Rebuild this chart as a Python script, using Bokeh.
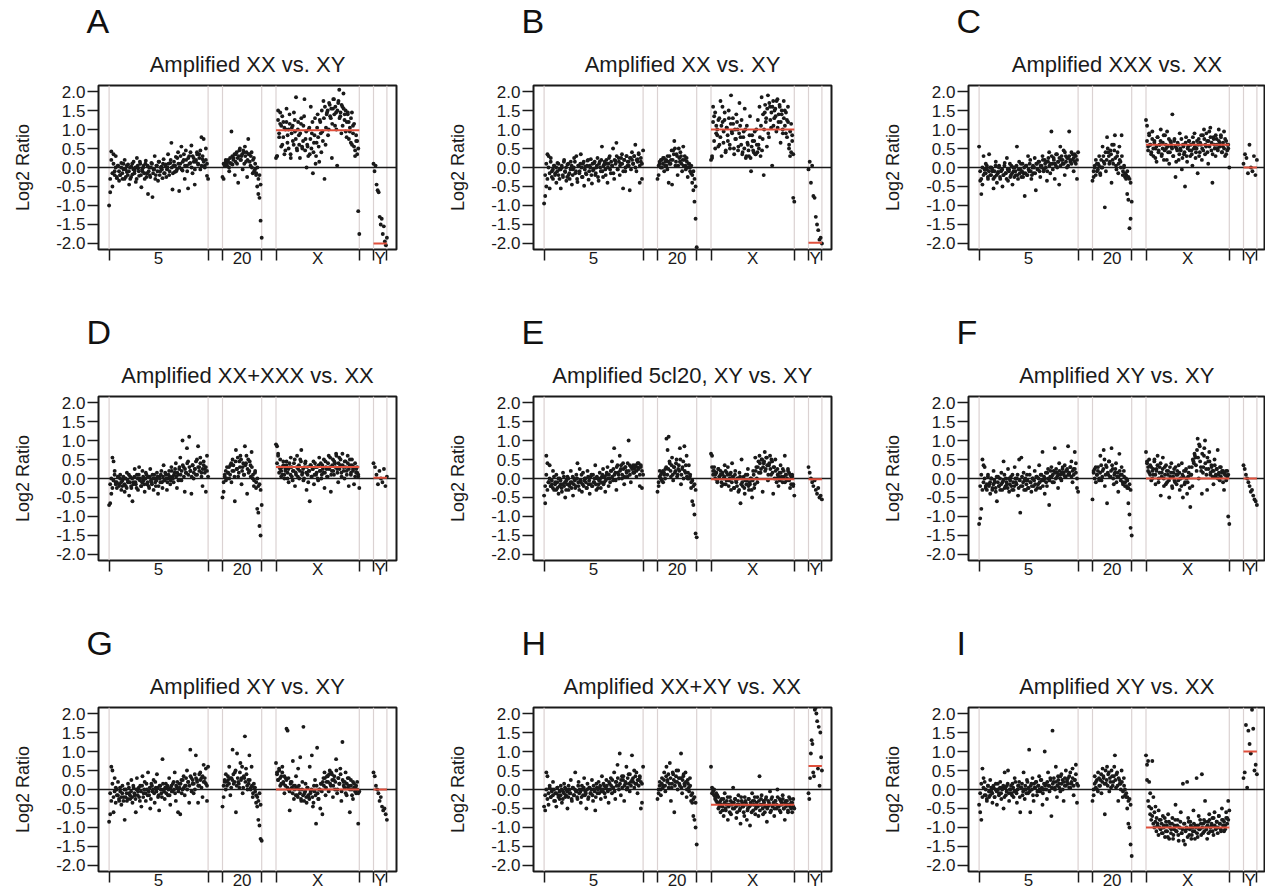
import numpy as np
from bokeh.plotting import figure
from bokeh.models import Span, Title, FixedTicker, NumeralTickFormatter, Range1d
from bokeh.layouts import column, row
from bokeh.embed import file_html
from bokeh.resources import INLINE

# ---------------- data ----------------
CHROMS = ["5", "20", "X", "Y"]
CHR_START = [0.0, 113.4, 166.9, 264.4]
CHR_END = [99.0, 152.6, 250.2, 277.8]
X_LIMITS = (-10.6, 287.4)
Y_LIMITS = (-2.16, 2.16)
Y_TICKS = [-2.0, -1.5, -1.0, -0.5, 0.0, 0.5, 1.0, 1.5, 2.0]
LETTERS = ["A", "B", "C", "D", "E", "F", "G", "H", "I"]
TITLES = ["Amplified XX vs. XY", "Amplified XX vs. XY", "Amplified XXX vs. XX",
          "Amplified XX+XXX vs. XX", "Amplified 5cl20, XY vs. XY", "Amplified XY vs. XY",
          "Amplified XY vs. XY", "Amplified XX+XY vs. XX", "Amplified XY vs. XX"]
X_MEAN = [0.98, 1.0, 0.6, 0.3, -0.02, 0.0, 0.0, -0.4, -1.0]
Y_MEAN = [-2.0, -1.98, 0.0, 0.02, -0.02, 0.0, 0.0, 0.62, 1.0]

# log2 ratios per chromosome; the *_5b / *_20b / *_Xb lists are the clones
# lying between the ones of *_5 / *_20 / *_X along the chromosome
A_5 = [-1.0, -0.65, 0.42, -0.5, 0.35, -0.1, 0.3, -0.28, 0.05, -0.35,
       -0.2, 0.12, -0.3, -0.05, 0.2, -0.25, -0.12, 0.08, -0.45, -0.3,
       0.02, -0.18, 0.15, -0.08, -0.38, 0.25, -0.02, -0.22, 0.1, -0.52,
       -0.1, 0.05, -0.3, 0.18, -0.15, -0.7, 0.0, -0.25, 0.12, -0.78,
       -0.05, 0.3, -0.2, 0.05, -0.35, 0.15, -0.1, 0.02, -0.28, 0.22,
       -0.15, 0.08, -0.05, 0.35, -0.2, 0.12, 0.65, -0.58, 0.05, -0.12,
       0.28, -0.05, 0.4, -0.62, 0.1, 0.55, -0.08, 0.2, -0.3, 0.45,
       0.05, -0.55, 0.3, 0.12, 0.58, -0.15, 0.25, -0.45, 0.15, 0.4,
       0.08, 0.35, -0.05, 0.8, 0.22, 0.75, 0.05, 0.5, -0.22, -0.3]
A_5b = [-0.3, 0.2, -0.15, 0.1, -0.2, 0.0, -0.25, 0.05, -0.1, -0.2,
        0.0, -0.15, 0.1, -0.3, -0.05, 0.05, -0.2, -0.1, 0.0, -0.25,
        0.1, -0.05, -0.15, 0.0, -0.3, 0.05, -0.1, 0.15, -0.2, -0.05,
        0.0, -0.15, 0.1, -0.25, 0.05, -0.1, -0.2, 0.0, 0.1, -0.15,
        -0.05, -0.3, 0.05, -0.1, 0.15, -0.2, 0.0, -0.05, 0.1, -0.15,
        0.05, -0.25, 0.0, 0.1, -0.1, 0.2, 0.0, -0.15, 0.15, 0.05,
        -0.1, 0.25, 0.1, 0.0, 0.3, -0.05, 0.15, 0.35, 0.05, 0.2,
        -0.1, 0.25, 0.1, 0.4, 0.0, 0.3, 0.15, -0.05, 0.2, 0.35,
        0.1, 0.25, 0.45, 0.05, 0.3, 0.15, 0.0, 0.2, 0.1]
A_20 = [-0.25, -0.3, 0.1, 0.15, 0.05, 0.2, -0.1, 0.12, 0.95, 0.08,
        0.25, -0.2, 0.35, 0.1, -0.4, 0.45, 0.2, 0.3, -0.05, 0.4,
        0.55, 0.15, -0.25, 0.75, 0.35, 0.05, 0.4, -0.15, 0.25, -0.05,
        -0.2, -0.5, -0.7, -0.8, -1.4, -1.85]
A_20b = [0.1, 0.05, 0.2, 0.1, 0.15, 0.0, 0.25, 0.1, 0.3, 0.2,
         0.35, 0.15, 0.4, 0.25, 0.3, 0.5, 0.2, 0.35, 0.45, 0.1,
         0.3, 0.4, 0.2, 0.35, 0.15, 0.3, 0.0, 0.2, -0.1, 0.1,
         -0.15, 0.0, -0.3, -0.2, -0.45]
A_X = [0.25, 0.3, 1.5, 0.8, 1.45, 1.1, 0.6, 1.2, 0.35, 1.0,
       1.55, 0.85, 0.5, 1.15, 0.25, 1.05, 0.7, 1.45, 0.95, 1.85,
       0.45, 1.2, 0.6, 0.9, 1.3, 0.5, 1.1, 1.8, 0.75, 0.0,
       0.55, 1.0, 0.35, 1.6, 0.9, -0.15, 0.65, 1.3, 0.3, 1.05,
       0.8, 0.15, 1.2, 0.4, 0.95, 1.75, -0.3, 0.6, 1.4, 1.5,
       1.0, 1.65, 1.3, 0.25, 1.55, 1.8, 1.1, 1.45, 0.05, 1.7,
       2.05, 1.35, 0.9, 1.6, 1.95, 1.25, 1.5, 0.8, 1.4, 1.2,
       0.95, 0.65, 1.45, 1.1, 0.55, 0.3, 0.85, 0.7, -1.15, -1.75]
A_Xb = [0.3, 1.25, 0.9, 1.15, 0.55, 1.35, 0.8, 1.05, 0.45, 1.2,
        0.65, 1.0, 1.4, 0.35, 0.9, 1.1, 0.6, 1.25, 0.75, 0.5,
        1.0, 0.85, 0.25, 1.15, 0.55, 0.7, 1.35, 0.45, 0.95, 0.6,
        0.3, 1.05, 0.75, 0.5, 1.2, 0.4, 0.85, 0.1, 0.65, 1.4,
        0.55, 1.25, 0.9, 1.5, 0.7, 1.3, 1.6, 1.05, 1.45, 0.85,
        1.7, 1.35, 1.55, 1.15, 1.8, 1.4, 1.6, 1.0, 1.5, 1.75,
        1.3, 1.45, 1.65, 1.1, 1.55, 1.4, 0.95, 1.2, 1.45, 0.75,
        1.05, 1.3, 0.6, 0.9, 1.15, 0.45, 0.7, 0.35, 0.5]
A_Y = [0.1, -0.1, 0.05, -0.45, -0.6, -0.65, -1.3, -1.5, -1.35, -1.75, -1.55, -1.95, -2.05, -1.85]

B_5 = [-0.95, -0.75, -0.5, 0.35, 0.3, -0.55, 0.25, -0.1, -0.3, 0.05,
       -0.15, -0.4, 0.12, -0.2, -0.05, -0.55, 0.0, -0.25, 0.2, -0.12,
       -0.35, 0.08, -0.2, -0.3, 0.15, -0.45, -0.05, 0.25, -0.15, 0.3,
       -0.38, 0.05, -0.1, 0.35, -0.25, 0.1, -0.48, 0.02, -0.18, 0.18,
       -0.32, 0.05, 0.22, -0.42, -0.08, 0.12, -0.2, 0.0, 0.25, -0.35,
       0.15, -0.1, 0.55, -0.25, 0.08, -0.05, 0.2, -0.4, 0.1, 0.3,
       -0.15, 0.05, 0.5, -0.3, 0.18, 0.65, -0.05, 0.25, -0.2, 0.1,
       0.35, -0.55, 0.2, -0.1, 0.3, 0.05, 0.15, -0.6, 0.25, 0.4,
       0.1, 0.3, 0.6, -0.1, 0.22, 0.38, -0.4, 0.15, -0.3, 0.45]
B_5b = [-0.2, 0.1, -0.3, 0.0, -0.15, 0.15, -0.25, -0.05, 0.05, -0.2,
        0.0, -0.1, 0.1, -0.3, -0.05, 0.05, -0.2, 0.15, -0.1, 0.0,
        -0.25, 0.1, -0.15, -0.05, 0.05, -0.2, 0.0, 0.15, -0.1, -0.3,
        0.05, -0.15, 0.1, 0.0, -0.25, 0.15, -0.05, -0.15, 0.05, 0.2,
        -0.1, 0.0, -0.2, 0.1, -0.05, 0.15, -0.15, 0.05, -0.25, 0.1,
        0.0, 0.2, -0.1, 0.05, 0.15, -0.2, 0.1, 0.0, 0.25, -0.05,
        0.15, 0.05, -0.15, 0.2, 0.1, 0.3, -0.05, 0.15, 0.05, 0.25,
        0.1, -0.1, 0.2, 0.0, 0.3, 0.15, 0.05, 0.25, -0.05, 0.2,
        0.1, 0.3, 0.0, 0.2, 0.15, 0.35, 0.05, 0.25, 0.1]
B_20 = [-0.3, -0.2, 0.1, 0.2, 0.0, 0.25, -0.1, 0.15, 0.05, 0.3,
        -0.4, 0.1, 0.2, -0.45, 0.45, 0.7, 0.05, 0.35, -0.2, 0.5,
        0.15, 0.3, -0.1, 0.55, 0.2, 0.05, 0.25, -0.25, 0.1, 0.0,
        -0.15, -0.4, -0.6, -0.9, -1.35, -2.1]
B_20b = [0.05, 0.15, 0.0, 0.2, 0.1, 0.25, 0.05, 0.2, -0.05, 0.15,
         0.3, 0.1, 0.45, 0.2, 0.35, 0.5, 0.15, 0.3, 0.05, 0.25,
         0.4, 0.1, 0.2, 0.05, 0.3, -0.05, 0.15, 0.0, 0.1, -0.1,
         0.05, -0.2, -0.1, -0.3, -0.5]
B_X = [0.2, 0.25, 1.6, 1.35, 0.5, 1.1, 0.85, 1.25, 0.6, 1.75,
       0.3, 1.2, 0.95, 1.45, 0.45, 1.05, 0.7, 1.3, 0.5, 1.9,
       0.9, 1.15, 0.35, 0.75, 1.4, 1.0, 0.55, 1.7, 0.8, 1.25,
       0.4, 0.95, 1.55, 0.25, 1.1, 0.6, 0.3, 1.35, -0.1, 0.85,
       0.45, 0.7, 0.35, 1.0, 0.4, 0.6, 1.6, 0.3, 1.85, 0.75,
       -0.2, 1.45, 1.2, 0.55, 1.9, 0.8, 1.6, 1.05, 0.05, 1.75,
       1.3, 1.55, 0.95, 1.8, 1.2, 1.65, 0.65, 1.4, 1.0, 1.75,
       1.5, 0.9, 1.25, 1.6, 0.5, 0.3, 1.15, 0.85, -0.8, -0.9]
B_Xb = [0.3, 1.2, 0.7, 1.45, 0.9, 1.0, 0.55, 1.3, 0.8, 1.1,
        1.6, 0.65, 1.25, 0.4, 1.05, 0.85, 1.5, 0.6, 1.15, 0.95,
        1.3, 0.5, 1.0, 0.75, 1.2, 0.45, 0.9, 1.1, 0.6, 0.35,
        0.8, 0.5, 1.0, 0.3, 0.65, 0.45, 0.85, 0.25, 0.55, 0.7,
        0.4, 0.95, 0.35, 0.6, 1.25, 0.5, 0.8, 1.1, 0.45, 1.4,
        1.0, 1.65, 1.3, 1.55, 0.9, 1.7, 1.25, 1.45, 1.6, 1.1,
        1.5, 1.35, 1.75, 1.05, 1.4, 1.6, 1.2, 1.5, 0.9, 1.3,
        1.1, 1.45, 0.8, 1.2, 0.6, 0.95, 0.4, 0.7, 0.35]
B_Y = [-0.05, 0.15, -0.4, 0.05, -0.75, -0.8, -1.3, -1.5, -1.65, -1.9, -1.85, -2.0]

C_5 = [0.55, -0.35, -0.7, -0.45, 0.3, -0.15, 0.1, -0.05, -0.3, 0.35,
       -0.2, 0.0, -0.1, -0.55, -0.25, 0.15, -0.4, -0.12, 0.05, -0.3,
       -0.08, -0.5, -0.2, 0.12, -0.15, 0.25, -0.35, -0.05, -0.25, 0.05,
       -0.45, -0.1, 0.0, -0.2, 0.55, -0.3, 0.15, -0.05, -0.25, 0.1,
       -0.15, -0.75, 0.05, -0.2, 0.3, -0.1, 0.2, -0.3, 0.0, -0.15,
       0.25, -0.6, 0.1, -0.05, 0.15, -0.25, 0.05, 0.3, -0.1, 0.2,
       0.0, -0.35, 0.15, 0.4, -0.15, 0.95, 0.1, 0.25, -0.3, 0.05,
       0.35, 0.15, -0.45, 0.55, 0.2, 0.1, 0.45, -0.2, 0.3, 0.0,
       0.25, 0.95, 0.15, 0.4, 0.2, -0.1, 0.35, 0.1, -0.3, 0.4]
C_5b = [-0.1, -0.3, 0.0, -0.2, -0.05, -0.15, 0.05, -0.25, -0.1, 0.0,
        -0.2, -0.05, -0.3, -0.1, 0.05, -0.2, -0.15, 0.0, -0.25, -0.1,
        -0.05, -0.2, 0.05, -0.15, -0.3, -0.05, -0.1, 0.1, -0.2, -0.15,
        0.0, -0.25, -0.1, 0.05, -0.2, -0.05, -0.15, 0.1, -0.1, -0.25,
        0.0, -0.15, 0.05, -0.2, -0.05, 0.1, -0.1, -0.2, 0.05, 0.0,
        -0.15, 0.1, -0.05, 0.15, -0.1, 0.05, 0.0, 0.2, -0.05, 0.1,
        0.15, -0.1, 0.25, 0.05, 0.1, 0.3, -0.05, 0.2, 0.1, 0.35,
        0.0, 0.15, 0.25, 0.05, 0.3, 0.2, 0.1, 0.4, 0.15, 0.25,
        0.05, 0.3, 0.2, 0.1, 0.35, 0.25, 0.15, 0.3, 0.2]
C_20 = [-0.35, -0.25, 0.05, 0.2, -0.1, 0.1, 0.3, -0.2, 0.0, 0.55,
        0.15, -1.05, -0.1, 0.8, 0.4, 0.1, 0.45, -0.4, 0.2, 0.6,
        0.85, 0.05, 0.3, -0.15, 0.55, 0.15, 0.85, -0.2, 0.0, -0.25,
        -0.3, -0.7, -0.85, -1.6, -1.35, -0.9]
C_20b = [-0.1, 0.0, -0.2, 0.1, -0.05, 0.05, -0.15, 0.2, 0.0, 0.3,
         0.1, 0.4, 0.2, 0.5, 0.3, 0.15, 0.35, 0.6, 0.1, 0.45,
         0.25, -0.05, 0.4, 0.1, 0.2, 0.0, 0.3, -0.1, 0.05, -0.15,
         -0.2, -0.1, -0.25, -0.3, -0.4]
C_X = [1.25, 1.1, 0.55, 0.85, 0.6, 0.4, 0.95, 0.3, 0.7, 0.5,
       0.15, 0.8, 0.45, 0.6, 1.0, 0.35, 0.65, 0.2, 0.85, 0.5,
       0.95, 0.4, 0.1, 0.7, 0.55, 1.4, 0.3, 0.75, -0.25, 0.5,
       0.65, 0.2, 0.9, 0.45, -0.05, 0.6, 0.35, -0.5, 0.8, 0.15,
       0.55, 0.7, 0.3, 0.45, 0.05, 0.65, 0.9, 0.25, 0.5, -0.15,
       0.75, 0.4, 0.6, 0.2, 0.85, 1.0, 0.35, 0.55, 0.7, 0.1,
       0.95, 1.05, 0.45, -0.4, 0.8, 0.6, 0.3, 0.75, 0.5, 1.0,
       0.65, 0.85, 0.4, 0.55, 0.95, 0.3, 0.7, 0.45, 0.6, 0.0]
C_Xb = [0.7, 0.45, 0.9, 0.6, 0.35, 0.75, 0.5, 0.65, 0.25, 0.55,
        0.8, 0.4, 0.6, 0.7, 0.3, 0.5, 0.85, 0.45, 0.6, 0.2,
        0.55, 0.75, 0.4, 0.65, 0.5, 0.3, 0.7, 0.55, 0.15, 0.45,
        0.6, 0.35, 0.5, 0.75, 0.25, 0.55, 0.4, 0.65, 0.3, 0.5,
        0.7, 0.45, 0.6, 0.35, 0.8, 0.5, 0.55, 0.4, 0.7, 0.6,
        0.3, 0.65, 0.85, 0.5, 0.45, 0.75, 0.6, 0.9, 0.4, 0.7,
        0.55, 0.8, 0.65, 0.35, 0.75, 0.5, 0.85, 0.6, 0.45, 0.7,
        0.55, 0.8, 0.4, 0.65, 0.5, 0.75, 0.35, 0.6, 0.5]
C_Y = [0.1, 0.35, 0.25, -0.15, 0.6, 0.0, -0.1, 0.3, -0.2, 0.2]

D_5 = [-0.7, -0.65, -0.4, 0.55, 0.45, 0.2, -0.1, -0.25, 0.05, -0.15,
       0.1, -0.3, -0.05, 0.0, -0.35, -0.2, 0.15, -0.1, -0.45, 0.05,
       -0.25, -0.6, -0.1, 0.25, -0.15, 0.1, -0.3, 0.3, 0.0, -0.2,
       0.2, -0.05, -0.35, 0.15, -0.15, 0.05, -0.25, 0.25, -0.1, 0.1,
       -0.3, 0.0, -0.2, 0.15, -0.4, 0.05, -0.1, 0.2, -0.25, 0.35,
       -0.05, 0.1, -0.3, 0.0, 0.2, -0.15, 0.3, 0.05, -0.1, 0.15,
       0.4, -0.25, 0.1, 0.25, 0.55, -0.05, 1.0, 0.3, -0.35, 0.15,
       0.8, 0.45, 1.1, 0.2, -0.4, 0.35, 0.0, 0.25, 0.1, 0.5,
       0.85, 0.3, 0.55, 0.15, -0.2, 0.45, 0.25, -0.35, 0.6, 0.05]
D_5b = [-0.15, 0.0, -0.25, -0.05, 0.1, -0.15, -0.1, 0.05, -0.2, 0.0,
        -0.1, -0.2, 0.05, -0.15, 0.0, -0.25, -0.05, 0.1, -0.1, -0.2,
        0.0, -0.15, 0.05, -0.1, -0.25, 0.0, 0.1, -0.05, -0.2, -0.1,
        0.05, -0.15, 0.0, 0.1, -0.1, -0.2, 0.05, -0.05, -0.15, 0.0,
        0.1, -0.1, -0.05, 0.05, -0.2, 0.0, 0.1, -0.1, 0.05, -0.05,
        0.15, 0.0, -0.1, 0.1, 0.05, -0.05, 0.2, 0.0, 0.1, 0.25,
        0.05, 0.15, -0.05, 0.3, 0.1, 0.2, 0.35, 0.05, 0.25, 0.15,
        0.4, 0.1, 0.3, 0.2, 0.05, 0.35, 0.15, 0.25, 0.45, 0.1,
        0.3, 0.2, 0.4, 0.05, 0.25, 0.35, 0.15, 0.3, 0.2]
D_20 = [-0.5, -0.35, 0.1, -0.05, 0.3, 0.15, 0.0, 0.35, -0.1, 0.5,
        0.2, -0.6, 0.75, 0.25, 0.05, 0.45, 0.6, -0.15, 0.3, 0.1,
        0.85, 0.4, -0.4, 0.5, 0.2, 0.35, 0.7, 0.0, -0.2, 0.15,
        -0.25, -0.8, -0.9, -1.25, -1.5, -0.7]
D_20b = [-0.1, 0.05, 0.2, 0.0, 0.15, 0.3, 0.1, 0.4, 0.2, 0.35,
         0.05, 0.45, 0.25, 0.55, 0.15, 0.3, 0.5, 0.2, 0.4, 0.1,
         0.35, 0.6, 0.25, 0.15, 0.45, 0.05, 0.3, 0.1, -0.05, 0.2,
         -0.1, 0.0, -0.2, -0.15, -0.3]
D_X = [0.9, 0.85, 0.65, 0.3, 0.5, 0.2, 0.1, 0.35, 0.0, 0.25,
       0.45, 0.15, -0.1, 0.3, 0.55, 0.05, 0.2, 0.4, -0.2, 0.1,
       0.6, 0.25, 0.0, 0.5, 0.75, 0.15, -0.05, 0.3, 0.45, -0.3,
       0.1, 0.2, -0.6, 0.35, 0.05, 0.25, -0.15, 0.4, 0.1, 0.3,
       -0.05, 0.55, 0.2, 0.0, 0.35, 0.15, -0.25, 0.45, 0.25, 0.05,
       0.6, 0.3, -0.35, 0.2, 0.5, 0.1, 0.4, 0.65, 0.25, -0.1,
       0.55, 0.35, 0.15, 0.65, 0.3, 0.0, 0.45, 0.2, 0.6, -0.2,
       0.35, 0.1, 0.5, 0.25, -0.15, 0.4, 0.15, 0.3, 0.05, -0.25]
D_Xb = [0.4, 0.6, 0.15, 0.25, 0.05, 0.3, 0.45, 0.1, 0.2, 0.35,
        0.0, 0.25, 0.4, 0.1, 0.3, -0.05, 0.2, 0.5, 0.15, 0.3,
        0.05, 0.35, 0.2, 0.45, 0.1, 0.25, 0.0, 0.4, 0.15, 0.3,
        -0.1, 0.2, 0.35, 0.05, 0.25, 0.45, 0.1, 0.3, 0.15, 0.0,
        0.35, 0.2, 0.4, 0.1, 0.25, 0.5, 0.15, 0.3, 0.05, 0.4,
        0.25, 0.55, 0.1, 0.35, 0.2, 0.45, 0.3, 0.6, 0.15, 0.4,
        0.25, 0.5, 0.05, 0.35, 0.2, 0.45, 0.3, 0.1, 0.4, 0.25,
        0.5, 0.15, 0.35, 0.2, 0.3, 0.05, 0.25, 0.15, 0.1]
D_Y = [0.4, 0.3, 0.1, -0.15, 0.2, 0.0, -0.1, 0.25, -0.2, 0.05]

E_5 = [-0.45, -0.65, 0.6, 0.4, -0.1, 0.35, -0.2, -0.15, 0.2, -0.3,
       -0.1, 0.1, -0.25, -0.4, 0.0, -0.15, -0.35, 0.15, -0.2, -0.5,
       -0.05, 0.05, -0.3, -0.15, 0.2, -0.1, -0.45, 0.0, -0.25, 0.1,
       0.4, -0.2, 0.25, -0.1, -0.35, 0.15, -0.05, 0.0, -0.25, 0.2,
       -0.15, -0.4, 0.05, -0.2, 0.1, -0.1, 0.35, -0.3, 0.0, -0.15,
       0.15, -0.25, 0.05, 0.25, -0.1, -0.35, 0.1, 0.3, -0.2, 0.0,
       0.2, 0.45, -0.05, 0.8, 0.15, -0.3, 0.35, 0.1, 0.6, 0.25,
       0.0, 0.4, -0.15, 0.3, 0.2, 0.05, 1.0, 0.35, -0.1, 0.3,
       0.15, 0.25, 0.35, 0.05, 0.3, 0.4, -0.2, 0.35, -0.25, 0.1]
E_5b = [-0.2, 0.1, -0.3, -0.1, 0.0, -0.2, -0.05, -0.25, 0.05, -0.15,
        -0.3, -0.1, 0.0, -0.2, -0.05, -0.25, -0.15, 0.05, -0.1, -0.3,
        -0.15, 0.0, -0.2, -0.1, -0.25, 0.05, -0.15, -0.05, -0.2, 0.0,
        -0.1, -0.3, -0.05, 0.1, -0.15, -0.2, 0.0, -0.1, -0.25, 0.05,
        -0.05, -0.15, 0.1, -0.2, -0.1, 0.0, -0.15, 0.05, -0.25, -0.05,
        0.0, -0.1, 0.1, -0.15, 0.05, -0.05, 0.15, 0.0, 0.1, -0.1,
        0.2, 0.05, 0.25, 0.1, -0.05, 0.3, 0.15, 0.0, 0.2, 0.35,
        0.1, 0.25, 0.05, 0.3, 0.15, 0.4, 0.2, 0.1, 0.3, 0.25,
        0.35, 0.15, 0.3, 0.2, 0.4, 0.25, 0.1, 0.3, 0.2]
E_20 = [-0.35, -0.2, 0.2, 0.0, 0.15, -0.1, 0.1, 0.25, 1.05, 0.75,
        1.1, 0.4, 0.05, 0.55, -0.05, 0.3, 0.2, 0.5, 0.1, 0.35,
        0.8, -0.15, 0.25, 0.45, 0.85, 0.15, 0.6, 0.0, 0.35, 0.05,
        -0.25, -0.6, -0.7, -0.95, -1.45, -1.55]
E_20b = [-0.1, 0.05, 0.1, -0.05, 0.2, 0.15, 0.0, 0.3, 0.1, 0.25,
         0.45, 0.2, 0.35, 0.1, 0.3, 0.15, 0.4, 0.05, 0.25, 0.2,
         0.5, 0.1, 0.3, 0.0, 0.2, 0.35, 0.05, 0.15, 0.0, 0.1,
         -0.1, -0.05, -0.2, -0.15, -0.3]
E_X = [0.65, 0.6, 0.2, 0.3, 0.1, 0.15, -0.1, 0.25, 0.05, 0.2,
       -0.2, 0.1, 0.0, 0.35, -0.15, 0.15, 0.3, -0.05, 0.1, -0.3,
       0.4, 0.05, -0.25, 0.2, -0.1, 0.0, -0.35, 0.15, -0.65, 0.5,
       -0.2, 0.05, -0.4, 0.1, -0.05, 0.25, -0.3, -0.15, 0.0, -0.5,
       0.2, -0.25, 0.55, 0.3, -0.1, 0.45, 0.6, 0.15, 0.5, -0.35,
       0.4, 0.7, 0.25, 0.55, -0.05, 0.35, 0.6, 0.1, 0.45, -0.4,
       0.3, 0.5, 0.0, 0.25, -0.2, 0.15, 0.35, 0.05, -0.1, 0.2,
       0.6, 0.1, -0.05, 0.25, 0.15, -0.25, 0.05, 0.1, -0.15, -0.45]
E_Xb = [0.3, 0.1, 0.2, 0.0, 0.15, -0.05, 0.25, 0.05, 0.1, -0.1,
        0.15, -0.15, 0.05, 0.2, -0.05, 0.1, -0.2, 0.0, 0.15, -0.1,
        0.05, -0.25, 0.1, -0.05, -0.2, 0.0, -0.3, 0.05, -0.15, -0.1,
        0.0, -0.25, -0.05, -0.15, 0.1, -0.2, -0.1, 0.0, -0.3, -0.05,
        0.1, -0.15, 0.2, 0.0, 0.3, 0.15, 0.4, 0.25, 0.5, 0.3,
        0.45, 0.2, 0.55, 0.35, 0.1, 0.4, 0.25, 0.5, 0.15, 0.3,
        0.0, 0.2, -0.1, 0.1, 0.05, -0.05, 0.15, 0.0, 0.25, 0.05,
        -0.1, 0.1, 0.0, 0.2, -0.05, 0.1, -0.15, 0.05, -0.2]
E_Y = [0.3, 0.15, 0.0, -0.1, -0.2, -0.05, -0.3, -0.4, -0.25, -0.5, -0.45, -0.55]

F_5 = [-1.2, -1.05, -0.8, 0.5, 0.35, 0.3, -0.2, -0.3, 0.1, -0.15,
       -0.4, 0.0, -0.25, 0.2, -0.1, -0.35, -0.6, 0.05, -0.2, -0.3,
       0.15, -0.1, 0.45, -0.25, 0.0, -0.15, 0.25, -0.35, -0.05, -0.2,
       0.1, -0.3, 0.3, -0.1, 0.0, -0.45, 0.5, -0.9, 0.55, -0.2,
       0.15, -0.05, -0.3, 0.1, -0.25, 0.3, -0.1, -0.35, 0.0, -0.2,
       0.2, -0.3, 0.05, -0.15, 0.35, -0.25, 0.1, 0.7, -0.05, -0.4,
       0.15, -0.2, 0.25, -0.7, 0.05, 0.3, -0.1, 0.2, 0.8, 0.0,
       0.15, -0.25, 0.4, 0.1, -0.05, 0.25, 0.15, 0.35, 0.05, 0.2,
       0.85, 0.1, 0.3, 0.45, -0.1, 0.25, 0.7, 0.4, -0.25, -0.35]
F_5b = [-0.2, 0.1, -0.3, -0.1, 0.0, -0.25, -0.15, 0.05, -0.2, -0.1,
        0.0, -0.3, -0.15, -0.05, -0.25, 0.05, -0.1, -0.2, 0.0, -0.15,
        -0.3, -0.05, 0.1, -0.2, -0.1, -0.25, 0.0, -0.15, 0.05, -0.3,
        -0.1, -0.2, 0.0, -0.15, 0.1, -0.25, -0.05, -0.2, 0.05, -0.1,
        -0.3, 0.0, -0.15, -0.05, -0.25, 0.1, -0.1, -0.2, 0.0, -0.05,
        -0.15, 0.05, -0.25, 0.0, -0.1, 0.1, -0.05, -0.2, 0.05, 0.0,
        -0.1, 0.15, 0.0, -0.05, 0.2, 0.05, 0.1, -0.1, 0.15, 0.25,
        0.05, 0.1, 0.2, 0.0, 0.15, 0.3, 0.1, 0.05, 0.2, 0.25,
        0.1, 0.15, 0.3, 0.05, 0.2, 0.1, 0.25, 0.15, 0.0]
F_20 = [-0.55, 0.15, 0.25, -0.1, 0.1, 0.3, 0.0, 0.6, -0.05, 0.2,
        0.75, -0.2, 0.35, -0.65, 0.1, 0.45, 0.05, 0.8, 0.25, -0.15,
        0.15, 0.4, 0.05, -0.35, 0.65, 0.1, 0.3, -0.1, 0.2, -0.2,
        0.0, -0.25, -0.65, -0.95, -1.3, -1.5]
F_20b = [0.2, 0.0, 0.3, 0.1, 0.2, -0.05, 0.15, 0.35, 0.05, 0.25,
         0.5, 0.1, 0.3, 0.15, 0.45, 0.05, 0.2, 0.35, 0.0, 0.1,
         0.25, -0.1, 0.15, 0.05, 0.2, -0.05, 0.1, -0.15, 0.05, -0.1,
         -0.2, -0.05, -0.25, -0.15, -0.3]
F_X = [0.7, 0.45, 0.3, 0.15, 0.35, -0.05, 0.2, 0.1, 0.5, -0.15,
       0.25, 0.6, 0.0, 0.3, -0.45, 0.15, 0.55, -0.2, 0.1, 0.35,
       -0.1, 0.2, -0.5, 0.05, 0.4, -0.25, 0.15, -0.05, 0.3, -0.15,
       0.1, 0.35, -0.3, 0.0, 0.4, -0.5, 0.2, -0.1, 0.25, -0.4,
       0.05, 0.3, -0.75, 0.1, -0.2, 0.45, 0.65, 0.55, 0.2, 1.05,
       0.0, 0.85, 0.3, -0.4, 0.15, 0.6, 1.0, 0.25, -0.3, 0.45,
       0.7, 0.1, 0.35, 0.2, -0.15, 0.5, 0.05, 0.25, 0.75, 0.1,
       -0.05, 0.3, 0.15, 0.2, -0.3, 0.1, 0.2, 0.05, -1.0, -1.2]
F_Xb = [0.4, 0.2, 0.5, 0.1, 0.3, 0.0, 0.25, 0.45, 0.1, 0.2,
        0.35, -0.1, 0.15, 0.4, 0.05, 0.25, 0.0, 0.3, -0.15, 0.2,
        0.1, -0.05, 0.3, 0.15, -0.2, 0.05, 0.25, -0.1, 0.1, 0.2,
        -0.05, 0.15, 0.0, -0.2, 0.1, 0.05, -0.15, 0.2, 0.0, -0.1,
        0.15, -0.25, 0.1, 0.3, 0.5, 0.4, 0.6, 0.35, 0.75, 0.55,
        0.9, 0.45, 0.2, 0.65, 0.3, 0.8, 0.4, 0.1, 0.55, 0.25,
        0.45, 0.15, 0.3, 0.05, 0.2, 0.35, 0.1, 0.25, 0.0, 0.15,
        0.3, 0.05, 0.2, -0.1, 0.15, 0.1, -0.05, 0.2, 0.1]
F_Y = [0.35, 0.25, 0.1, 0.0, -0.1, -0.2, -0.35, -0.3, -0.45, -0.55, -0.6, -0.7]

G_5 = [-0.85, -0.65, 0.6, 0.5, -0.6, 0.3, 0.05, -0.15, 0.2, -0.3,
       -0.05, -0.4, 0.1, -0.2, -0.8, 0.0, -0.3, 0.15, -0.1, -0.25,
       0.25, -0.35, 0.05, -0.15, -0.6, 0.3, -0.05, -0.2, 0.1, -0.45,
       0.35, -0.1, 0.2, -0.3, 0.0, 0.45, -0.15, -0.5, 0.15, -0.05,
       0.25, -0.35, 0.05, 0.4, -0.2, -0.55, 0.1, -0.1, 0.8, 0.0,
       -0.25, 0.15, 0.05, -0.15, 0.3, -0.4, 0.1, -0.05, 0.2, 0.45,
       -0.3, 0.05, -0.6, 0.15, -0.65, 0.25, 0.0, 0.35, -0.15, 0.1,
       0.5, 0.2, -0.35, 1.05, 0.3, 0.15, -0.1, 0.4, 0.9, 0.25,
       -0.35, 0.1, 0.45, 0.3, -0.2, 0.65, 0.2, 0.55, -0.3, 0.6]
G_5b = [-0.1, -0.3, 0.15, -0.2, -0.05, -0.35, 0.0, -0.15, -0.25, 0.05,
        -0.2, -0.1, -0.3, 0.0, -0.2, -0.1, -0.25, 0.05, -0.15, -0.05,
        -0.2, 0.1, -0.1, -0.25, 0.0, -0.15, 0.05, -0.3, -0.05, 0.1,
        -0.2, 0.0, -0.1, 0.15, -0.15, -0.05, 0.05, -0.25, 0.1, 0.0,
        -0.1, 0.2, -0.05, 0.05, -0.15, 0.1, 0.0, -0.2, 0.15, -0.05,
        0.05, -0.1, 0.1, 0.0, -0.15, 0.05, -0.05, 0.15, 0.0, -0.1,
        0.1, 0.2, -0.05, 0.05, 0.15, -0.1, 0.25, 0.05, 0.1, 0.3,
        0.0, 0.2, 0.1, 0.35, -0.05, 0.25, 0.15, 0.0, 0.3, 0.2,
        0.1, 0.4, 0.25, 0.05, 0.35, 0.2, 0.3, 0.15, 0.1]
G_20 = [-0.45, -0.2, 0.2, 0.4, 0.1, 0.25, 0.6, -0.15, 0.3, 1.05,
        0.15, 0.45, -0.6, 0.95, 0.2, 0.05, 0.7, 0.3, -0.1, 0.35,
        1.4, 0.55, 0.1, 0.25, 0.9, 0.0, 0.6, -0.2, 0.15, 0.05,
        -0.35, -0.45, -0.8, -0.95, -1.3, -1.35]
G_20b = [0.1, 0.25, 0.0, 0.2, 0.35, 0.15, 0.3, 0.05, 0.25, 0.4,
         0.2, 0.5, 0.1, 0.3, 0.15, 0.45, 0.25, 0.6, 0.05, 0.3,
         0.2, 0.4, 0.0, 0.15, 0.25, 0.05, 0.1, -0.1, 0.05, -0.05,
         -0.15, -0.2, -0.3, -0.1, -0.4]
G_X = [0.7, 0.45, 0.25, 0.5, 0.1, 0.35, 0.6, 0.15, -0.1, 0.3,
       1.6, 1.55, 0.0, -0.55, 0.2, 0.05, 0.75, -0.25, 0.1, 0.35,
       -0.15, 0.55, 0.0, 0.85, -0.3, 0.2, 1.65, -0.1, 0.15, -0.35,
       0.05, -0.2, 0.6, -0.05, 0.9, -0.45, 0.1, 0.25, -0.9, 1.1,
       -0.25, 0.0, -0.5, 0.15, -0.65, 0.3, 0.45, -0.15, 0.2, 0.35,
       -0.05, 0.5, 0.1, 0.4, -0.2, 0.25, 0.0, 0.8, -0.1, 0.3,
       0.15, 0.55, -0.3, 1.25, 0.2, 0.05, 0.45, -0.15, 0.3, 0.1,
       -0.6, 0.25, 0.0, -0.25, 0.15, 0.05, -0.1, 0.2, -0.9, -0.05]
G_Xb = [0.4, 0.25, 0.55, 0.3, 0.15, 0.45, 0.2, 0.35, 0.1, 0.25,
        0.05, 0.3, -0.05, 0.15, 0.2, -0.1, 0.1, 0.0, -0.15, 0.05,
        -0.2, 0.1, -0.1, -0.25, 0.0, -0.15, -0.3, -0.05, -0.2, 0.05,
        -0.15, -0.25, -0.1, 0.0, -0.2, -0.35, -0.05, -0.15, 0.1, -0.1,
        -0.25, 0.0, 0.15, -0.05, 0.2, 0.1, 0.3, 0.05, 0.35, 0.2,
        0.4, 0.15, 0.45, 0.25, 0.1, 0.35, 0.2, 0.5, 0.0, 0.3,
        0.15, 0.4, -0.05, 0.25, 0.1, 0.2, -0.1, 0.15, 0.05, 0.3,
        0.0, 0.1, -0.15, 0.2, 0.05, -0.05, 0.1, 0.0, -0.1]
G_Y = [0.45, 0.35, 0.1, 0.0, -0.1, -0.3, -0.2, -0.45, -0.55, -0.5, -0.65, -0.8]

H_5 = [-0.45, -0.55, 0.45, 0.35, -0.4, 0.1, -0.2, 0.0, 0.2, -0.3,
       -0.1, -0.45, 0.05, -0.15, -0.25, 0.1, -0.35, -0.05, 0.15, -0.2,
       0.0, -0.5, 0.1, -0.1, 0.25, -0.3, 0.05, -0.15, 0.45, -0.05,
       -0.25, 0.2, 0.0, -0.35, 0.1, -0.15, 0.3, -0.05, -0.5, 0.15,
       -0.2, 0.05, -0.1, 0.25, -0.3, 0.0, -0.55, 0.15, -0.1, 0.2,
       0.05, -0.25, 0.35, -0.05, 0.1, -0.2, 0.25, 0.0, -0.35, 0.15,
       0.3, -0.1, 0.05, 0.45, -0.25, 0.2, 0.65, 0.1, 0.95, -0.15,
       0.35, 0.25, -0.3, 0.15, 0.6, 0.05, 0.4, -0.05, 0.2, 0.9,
       0.3, 0.5, 0.15, 0.45, -0.1, 0.25, 0.35, -0.5, -0.35, 0.6]
H_5b = [-0.15, 0.0, -0.25, -0.1, 0.05, -0.2, -0.05, -0.15, 0.0, -0.3,
        -0.1, 0.05, -0.2, -0.05, -0.15, 0.0, -0.25, -0.1, 0.05, -0.15,
        -0.05, -0.2, 0.0, -0.1, -0.25, 0.05, -0.15, 0.0, -0.05, -0.2,
        0.1, -0.1, -0.05, -0.2, 0.0, 0.05, -0.15, -0.1, 0.0, -0.25,
        0.05, -0.1, 0.0, -0.15, 0.1, -0.05, -0.2, 0.05, 0.0, -0.1,
        0.1, -0.05, 0.0, 0.15, -0.1, 0.05, 0.1, -0.05, 0.2, 0.0,
        0.1, 0.25, 0.05, -0.05, 0.2, 0.1, 0.3, 0.0, 0.15, 0.25,
        0.05, 0.35, 0.1, 0.2, 0.0, 0.3, 0.15, 0.4, 0.1, 0.25,
        0.2, 0.05, 0.35, 0.15, 0.25, 0.1, 0.3, 0.2, 0.15]
H_20 = [-0.25, 0.0, 0.2, -0.15, 0.3, 0.1, 0.45, -0.05, 0.6, 0.25,
        0.05, 0.7, -0.3, 0.15, 0.4, -0.6, 0.2, 0.5, 0.0, 0.3,
        0.1, 0.95, -0.1, 0.35, 0.15, 0.45, -0.2, 0.25, 0.05, 0.3,
        -0.3, -0.35, -0.7, -0.8, -1.0, -1.45]
H_20b = [-0.1, 0.1, 0.0, 0.15, 0.05, 0.25, 0.1, 0.35, 0.2, 0.4,
         0.15, 0.3, 0.05, 0.45, 0.25, 0.1, 0.35, 0.2, 0.5, 0.15,
         0.3, 0.05, 0.25, 0.4, 0.1, 0.2, 0.0, 0.15, -0.05, 0.1,
         -0.15, -0.1, -0.25, -0.2, -0.35]
H_X = [0.6, 0.05, -0.05, 0.0, -0.2, -0.3, -0.15, -0.5, -0.35, -0.6,
       -0.25, -0.45, -0.7, -0.1, -0.55, -0.3, -0.8, -0.4, -0.2, -0.65,
       -0.35, 0.05, -0.5, -0.25, -0.75, -0.4, -0.15, -0.55, -0.9, -0.3,
       -0.45, -0.6, -0.2, -0.35, -0.8, -0.5, -0.25, -0.95, -0.4, -0.1,
       -0.55, -0.3, -0.65, -0.45, -0.2, -0.7, 0.35, -0.4, -0.15, -0.5,
       -0.3, -0.6, -0.25, -0.85, -0.45, -0.35, -0.05, -0.55, -0.2, -0.4,
       -0.7, -0.3, -0.5, 0.0, -0.45, -0.25, -0.6, -0.35, -0.15, -0.5,
       -0.8, -0.3, -0.4, -0.55, -0.2, -0.45, -0.35, -0.6, -0.25, -0.5]
H_Xb = [-0.1, 0.0, -0.15, -0.25, -0.1, -0.35, -0.2, -0.45, -0.3, -0.4,
        -0.55, -0.25, -0.35, -0.5, -0.4, -0.2, -0.45, -0.6, -0.3, -0.4,
        -0.5, -0.35, -0.25, -0.45, -0.6, -0.3, -0.4, -0.5, -0.2, -0.35,
        -0.45, -0.7, -0.3, -0.4, -0.55, -0.25, -0.45, -0.35, -0.6, -0.3,
        -0.4, -0.2, -0.5, -0.35, -0.45, -0.3, -0.55, -0.25, -0.4, -0.65,
        -0.35, -0.45, -0.2, -0.5, -0.3, -0.4, -0.6, -0.25, -0.45, -0.35,
        -0.5, -0.3, -0.4, -0.2, -0.45, -0.55, -0.3, -0.4, -0.25, -0.5,
        -0.35, -0.45, -0.3, -0.6, -0.4, -0.25, -0.5, -0.35, -0.45]
H_Y = [-0.1, -0.25, 0.3, 0.95, 1.3, 1.2, 0.45, 0.35, 2.1, 2.15,
       2.0, 1.8, 0.55, 1.65, 0.1, 1.5, 0.85, 0.5]

I_5 = [-0.4, -0.6, -0.8, 0.55, 0.3, 0.2, -0.15, -0.3, 0.1, -0.2,
       0.25, -0.05, -0.35, 0.05, -0.2, 0.15, -0.4, 0.0, -0.1, 0.2,
       -0.25, 0.05, -0.5, 0.45, -0.15, 0.1, 0.5, -0.3, 0.0, -0.1,
       0.15, -0.2, 0.3, -0.05, -0.35, 0.1, 0.2, -0.6, 0.05, -0.15,
       0.45, -0.25, 0.0, 0.25, -0.1, 1.05, -0.6, 0.15, 0.3, -0.3,
       0.05, 0.2, -0.15, 0.1, 0.35, -0.05, 0.25, -0.4, 0.0, 1.0,
       0.15, -0.25, 0.45, 0.1, 0.3, -0.7, 1.55, 0.2, 0.05, 0.6,
       -0.2, 0.35, 0.15, -0.05, 0.4, 0.25, -0.3, 0.1, 0.5, 0.2,
       0.3, 0.05, 0.45, 0.15, 0.55, -0.15, 0.25, 0.65, -0.35, 0.1]
I_5b = [-0.1, 0.15, -0.2, 0.05, -0.15, 0.0, -0.25, 0.1, -0.05, -0.15,
        0.05, -0.1, 0.1, -0.2, 0.0, -0.05, 0.15, -0.15, 0.05, -0.1,
        0.0, 0.1, -0.2, 0.05, -0.05, 0.15, -0.1, 0.0, 0.1, -0.15,
        0.05, -0.05, 0.2, -0.1, 0.0, 0.1, -0.2, 0.05, 0.15, -0.05,
        0.0, 0.1, -0.1, 0.2, 0.05, -0.05, 0.1, 0.0, -0.15, 0.15,
        0.05, 0.2, -0.05, 0.1, 0.0, 0.25, 0.05, -0.1, 0.15, 0.1,
        0.0, 0.2, 0.1, -0.05, 0.25, 0.05, 0.15, 0.3, 0.0, 0.2,
        0.1, 0.25, 0.05, 0.35, 0.15, 0.0, 0.2, 0.3, 0.1, 0.25,
        0.15, 0.35, 0.05, 0.2, 0.3, 0.1, 0.25, 0.4, 0.15]
I_20 = [-0.3, -0.15, 0.35, 0.2, 0.0, 0.45, 0.1, 0.25, -0.1, 0.55,
        0.3, -0.65, 0.15, 0.6, 0.4, -0.05, 0.2, 0.5, 0.1, 0.35,
        0.9, 0.05, 0.45, -0.3, 0.25, 0.15, 0.5, -0.2, 0.3, 0.0,
        -0.2, -0.5, -0.9, -1.0, -1.45, -1.75]
I_20b = [0.0, 0.15, 0.05, 0.25, -0.05, 0.3, 0.1, 0.4, 0.2, 0.35,
         0.15, 0.5, 0.25, 0.1, 0.45, 0.3, 0.05, 0.35, 0.2, 0.6,
         0.25, 0.4, 0.1, 0.3, 0.15, 0.0, 0.2, -0.05, 0.1, -0.15,
         -0.1, -0.2, -0.3, -0.25, -0.4]
I_X = [0.9, 0.65, 0.75, 0.2, -0.1, -0.5, 0.75, -0.2, -0.6, -0.45,
       -0.75, -0.9, -0.55, -1.0, -0.8, -1.15, -0.7, -0.95, -1.25, -0.85,
       -1.1, -0.65, -1.3, -0.9, -1.05, -0.75, -1.2, -0.95, -0.4, -1.1,
       -0.8, -1.35, -1.0, -0.6, -1.15, 0.15, -0.9, -1.45, -1.05, 0.2,
       -0.75, -1.2, -0.85, -1.3, -1.0, -0.55, -1.1, -0.95, 0.3, -1.25,
       -0.7, -1.05, -0.9, 0.4, -1.15, -0.8, -0.3, -1.0, -1.3, -0.85,
       -0.65, -1.1, -0.95, -0.75, -1.2, -0.6, -1.0, -0.85, -1.15, -0.7,
       -0.9, -1.05, -0.5, -0.8, -1.1, -0.95, -0.6, -0.75, -0.3, -0.55]
I_Xb = [0.25, -0.3, -0.45, -0.65, -0.8, -0.7, -0.9, -1.0, -0.85, -1.1,
        -0.95, -1.2, -0.8, -1.05, -0.9, -1.15, -1.0, -0.75, -1.1, -0.95,
        -1.25, -0.85, -1.0, -1.15, -0.9, -1.3, -1.05, -0.8, -1.1, -0.95,
        -1.2, -1.0, -0.85, -1.15, -1.05, -1.35, -0.9, -1.1, -1.0, -1.25,
        -0.85, -1.05, -0.95, -1.2, -1.1, -0.9, -1.3, -1.0, -1.15, -0.95,
        -1.05, -0.8, -1.2, -1.0, -0.9, -1.1, -0.85, -1.05, -0.95, -1.15,
        -0.8, -1.0, -0.9, -1.1, -0.75, -0.95, -1.05, -0.85, -1.0, -0.7,
        -0.9, -1.1, -0.8, -0.95, -0.85, -1.05, -0.75, -0.9, -0.8]
I_Y = [0.3, 0.45, 1.7, 0.05, 1.55, 1.2, 0.95, 2.1, 1.6, 0.5, 0.65, 0.4]

PANEL_DATA = [
    (A_5, A_20, A_X, A_Y), (B_5, B_20, B_X, B_Y), (C_5, C_20, C_X, C_Y),
    (D_5, D_20, D_X, D_Y), (E_5, E_20, E_X, E_Y), (F_5, F_20, F_X, F_Y),
    (G_5, G_20, G_X, G_Y), (H_5, H_20, H_X, H_Y), (I_5, I_20, I_X, I_Y),
]
PANEL_EXTRA = [  # (chr5, chr20, X) in-between clones
    (A_5b, A_20b, A_Xb), (B_5b, B_20b, B_Xb), (C_5b, C_20b, C_Xb),
    (D_5b, D_20b, D_Xb), (E_5b, E_20b, E_Xb), (F_5b, F_20b, F_Xb),
    (G_5b, G_20b, G_Xb), (H_5b, H_20b, H_Xb), (I_5b, I_20b, I_Xb),
]

# ---------------- style ----------------
FONT = "Liberation Sans"
INK = "#1a1a1a"
GRAY = "#dbd2d2"
RED = "#e0503c"
FRAME_W = 298
FRAME_H = 164
BOUNDS = sorted(CHR_START + CHR_END)
CENTERS = [(s + e) / 2 for s, e in zip(CHR_START, CHR_END)]
DOT = 3.9


def make_panel(i):
    col, rw = i % 3, i // 3
    last_col = col == 2
    last_row = rw == 2
    fw = 297 if last_col else FRAME_W
    x0 = X_LIMITS[0]
    x1 = X_LIMITS[0] + (X_LIMITS[1] - X_LIMITS[0]) * fw / FRAME_W

    size_kw = dict(frame_width=fw)
    if last_row:
        size_kw["height"] = 270
    else:
        size_kw["frame_height"] = FRAME_H

    p = figure(x_range=Range1d(x0, x1), y_range=Range1d(*Y_LIMITS),
               output_backend="svg", toolbar_location=None,
               min_border_left=98 if col == 0 else 88,
               min_border_right=0 if last_col else 49,
               min_border_top=85,
               min_border_bottom=21 if last_row else 62,
               **size_kw)
    p.background_fill_color = "white"
    p.border_fill_color = "white"
    p.outline_line_color = INK
    p.outline_line_width = 2
    p.xgrid.visible = False
    p.ygrid.visible = False

    # main title (closest to frame), then panel letter above it
    p.add_layout(Title(text=TITLES[i], align="center", text_font=FONT,
                       text_font_size="22px", text_font_style="normal",
                       text_color=INK, standoff=17), "above")
    p.add_layout(Title(text=LETTERS[i], align="left", offset=-12, text_font=FONT,
                       text_font_size="34px", text_font_style="normal",
                       text_color="#111111", vertical_align="top",
                       standoff=0), "above")

    # y axis
    ya = p.yaxis[0]
    ya.ticker = FixedTicker(ticks=Y_TICKS)
    ya.formatter = NumeralTickFormatter(format="0.0")
    ya.axis_label = "Log2 Ratio"
    ya.axis_label_text_font = FONT
    ya.axis_label_text_font_size = "18px"
    ya.axis_label_text_font_style = "normal"
    ya.axis_label_text_color = INK
    ya.axis_label_standoff = 20
    ya.major_label_text_font = FONT
    ya.major_label_text_font_size = "17px"
    ya.major_label_text_color = INK
    ya.major_label_standoff = 2
    ya.major_tick_out = 11
    ya.major_tick_in = 0
    ya.major_tick_line_color = INK
    ya.major_tick_line_width = 1.5
    ya.minor_tick_line_color = None
    ya.axis_line_color = None

    # x axis: ticks at chromosome boundaries, labels at centres
    xa = p.xaxis[0]
    xa.ticker = FixedTicker(ticks=CENTERS, minor_ticks=BOUNDS)
    xa.major_label_overrides = {c: n for c, n in zip(CENTERS, CHROMS)}
    xa.major_tick_out = 0
    xa.major_tick_in = 0
    xa.major_tick_line_color = None
    xa.minor_tick_out = 11
    xa.minor_tick_in = 0
    xa.minor_tick_line_color = INK
    xa.minor_tick_line_width = 1.5
    xa.major_label_standoff = -12
    xa.major_label_text_font = FONT
    xa.major_label_text_font_size = "17px"
    xa.major_label_text_color = INK
    xa.axis_line_color = None

    # chromosome separators and zero line
    for b in BOUNDS:
        p.add_layout(Span(location=b, dimension="height", line_color=GRAY,
                          line_width=1.2, level="underlay"))
    p.add_layout(Span(location=0, dimension="width", line_color=INK,
                      line_width=1.5, level="underlay"))

    # points: clones in order along each chromosome
    for k, vals in enumerate(PANEL_DATA[i]):
        xs = np.linspace(CHR_START[k], CHR_END[k], len(vals))
        p.scatter(xs, vals, size=DOT, marker="circle", color=INK, line_width=0)
    for k, vals in zip((0, 1, 2), PANEL_EXTRA[i]):
        xs = np.linspace(CHR_START[k], CHR_END[k], len(vals) + 2)[1:-1]
        p.scatter(xs, vals, size=DOT, marker="circle", color=INK, line_width=0)

    # segment means on X and Y
    p.segment(x0=[CHR_START[2], CHR_START[3]], x1=[CHR_END[2], CHR_END[3]],
              y0=[X_MEAN[i], Y_MEAN[i]], y1=[X_MEAN[i], Y_MEAN[i]],
              line_color=RED, line_width=2)
    return p


panels = [make_panel(i) for i in range(9)]
layout = column(row(panels[0:3]), row(panels[3:6]), row(panels[6:9]))

open("out.html", "w").write(file_html(layout, INLINE))
